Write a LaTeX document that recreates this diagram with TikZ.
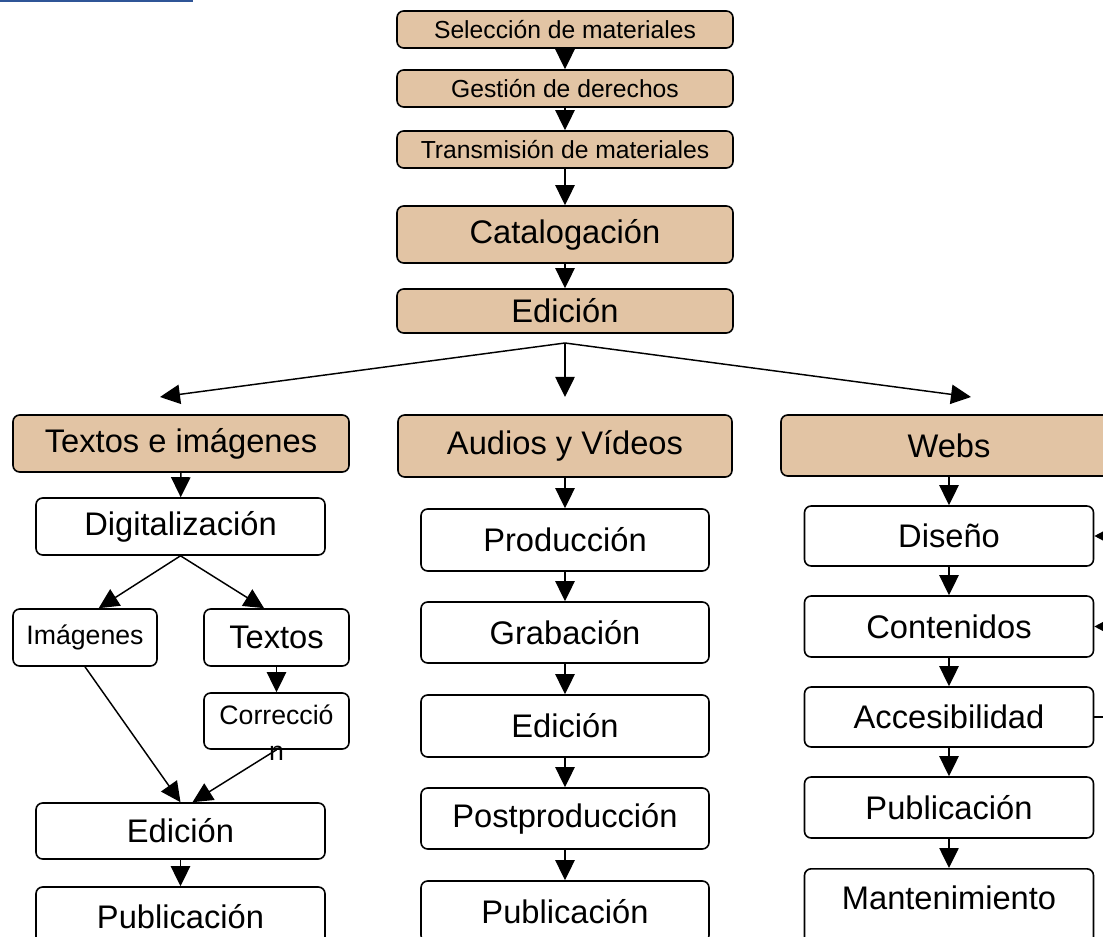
\documentclass[tikz,border=0pt]{standalone}
\usepackage{fontspec}
\setmainfont{Liberation Sans}
\usetikzlibrary{arrows.meta,calc}
\definecolor{boxtan}{RGB}{226,196,164}
\definecolor{linkblue}{RGB}{47,85,151}
\newcommand{\bigtxt}{\fontsize{24.5}{29.4}\selectfont}
\newcommand{\smalltxt}{\fontsize{18.5}{22.2}\selectfont}
\newcommand{\midtxt}{\fontsize{20}{24}\selectfont}
\tikzset{
  box/.style={draw, rectangle, rounded corners=5pt, line width=1.2pt, inner sep=0pt, minimum width=216.75pt, minimum height=45.75pt, align=center, font=\bigtxt},
  tanbox/.style={box, fill=boxtan, minimum width=252pt},
  arr/.style={line width=1.1pt, -{Triangle[length=15pt,width=14.5pt]}},
  backarr/.style={line width=1.1pt, -{Triangle[length=7pt,width=7pt]}},
}
\begin{document}
\begin{tikzpicture}[x=0.75pt,y=-0.75pt]
\useasboundingbox (0,0) rectangle (1103,937);
\draw[line width=1.5pt, color=linkblue] (0,1) -- (193,1);
% tronco comun
\node[tanbox, minimum height=27.75pt, font=\smalltxt] (sel) at (565,29.5) {Selección de materiales};
\node[tanbox, minimum height=27.75pt, font=\smalltxt] (ges) at (565,88.5) {Gestión de derechos};
\node[tanbox, minimum height=27.75pt, font=\smalltxt] (tra) at (565,149.5) {Transmisión de materiales};
\node[tanbox, minimum height=42.75pt] (cat) at (565,234.5) {Catalogación};
\node[tanbox, minimum height=33pt] (edi) at (565,311) {Edición};
\draw[arr] (sel) -- (ges);
\draw[arr] (ges) -- (tra);
\draw[arr] (tra) -- (cat);
\draw[arr] (cat) -- (edi);
\coordinate (fan) at (565,343);
\draw[arr] (fan) -- (160,397);
\draw[arr] (fan) -- (565,397);
\draw[arr] (fan) -- (971,397);
% ramas
\node[tanbox, minimum height=42.75pt] (tex) at (181,443.5) {Textos e imágenes};
\node[tanbox, minimum width=250.5pt, minimum height=46.5pt] (aud) at (565,446) {Audios y Vídeos};
\node[tanbox, minimum height=45.75pt] (web) at (949,445.5) {Webs};
% textos e imagenes
\node[box, minimum height=42.75pt] (dig) at (180.5,526.5) {Digitalización};
\node[box, minimum width=108pt, minimum height=42.75pt, font=\midtxt] (ima) at (85,637.5) {Imágenes};
\node[box, minimum width=108.75pt, minimum height=42.75pt] (txt) at (276.5,637.5) {Textos};
\node[box, minimum width=108.75pt, minimum height=42pt, font=\midtxt] (cor) at (276.5,721) {\smash{\raisebox{-2.5pt}{\begin{tabular}[t]{@{}c@{}}Correcció\\[3pt]n\end{tabular}}}};
\node[box, minimum height=42pt] (edl) at (180.5,831) {Edición};
\node[box, minimum height=45pt] (pul) at (180.5,917) {Publicación};
\draw[arr] (tex) -- (dig);
\draw[arr] (dig.south) -- (ima.65);
\draw[arr] (dig.south) -- (txt.113);
\draw[arr] (txt) -- (cor);
\draw[arr] (ima.south) -- (edl.north);
\draw[arr] (cor.south) -- ($(edl.north)+(12,0)$);
\draw[arr] (edl) -- (pul);
% audios y videos
\node[box, minimum width=216pt, minimum height=46.5pt] (pro) at (565,540) {Producción};
\node[box, minimum width=216pt] (gra) at (565,632.5) {Grabación};
\node[box, minimum width=216pt, minimum height=46.5pt] (edm) at (565,726) {Edición};
\node[box, minimum width=216pt] (pos) at (565,818.5) {Postproducción};
\node[box, minimum width=216pt] (pum) at (565,911.5) {Publicación};
\draw[arr] (aud) -- (pro);
\draw[arr] (pro) -- (gra);
\draw[arr] (gra) -- (edm);
\draw[arr] (edm) -- (pos);
\draw[arr] (pos) -- (pum);
% webs
\node[box, minimum height=45pt] (dis) at (949,536) {Diseño};
\node[box] (con) at (949,626.5) {Contenidos};
\node[box, minimum height=45pt] (acc) at (949,717) {Accesibilidad};
\node[box] (pur) at (949,807.5) {Publicación};
\node[box, anchor=north, minimum height=60pt, text depth=16pt] (man) at (949,868) {Mantenimiento};
\draw[arr] (web) -- (dis);
\draw[arr] (dis) -- (con);
\draw[arr] (con) -- (acc);
\draw[arr] (acc) -- (pur);
\draw[arr] (pur) -- (man);
% vuelta atras
\coordinate (bk) at (1130,717);
\draw[line width=1.1pt] (acc.east) -- (bk);
\draw[backarr] (bk) |- (dis.east);
\draw[backarr] (bk |- con.east) -- (con.east);
\end{tikzpicture}
\end{document}
